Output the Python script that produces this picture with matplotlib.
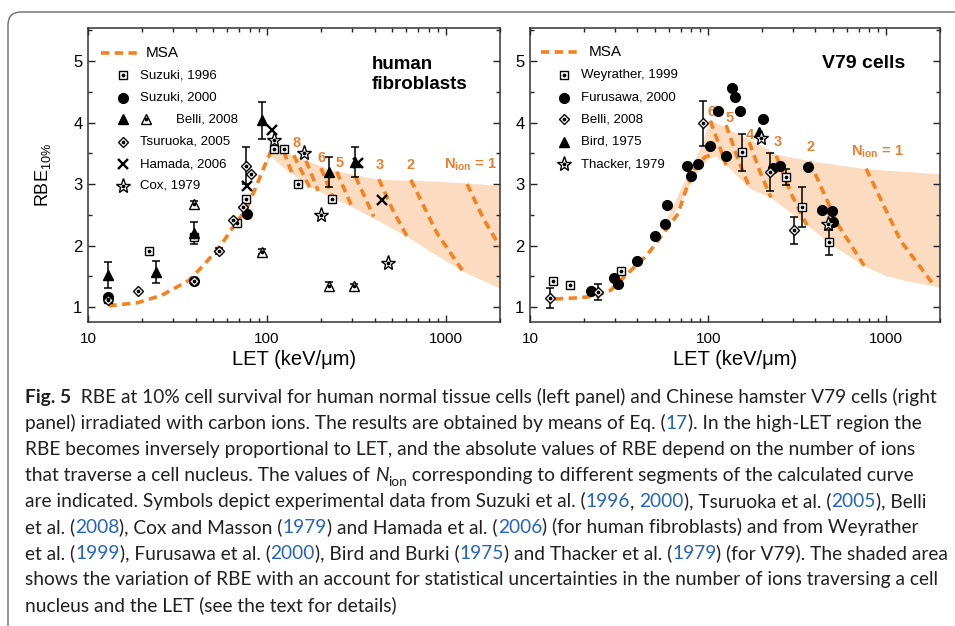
import numpy as np
import matplotlib
matplotlib.use('Agg')
import matplotlib.pyplot as plt
from matplotlib.patches import FancyBboxPatch
from matplotlib.ticker import LogLocator, MultipleLocator, FixedLocator, NullFormatter

plt.rcParams['font.family'] = ['Liberation Sans', 'DejaVu Sans']
plt.rcParams['mathtext.fontset'] = 'custom'
plt.rcParams['mathtext.rm'] = 'Liberation Sans'
plt.rcParams['mathtext.it'] = 'Liberation Sans:italic'
plt.rcParams['mathtext.bf'] = 'Liberation Sans:bold'
plt.rcParams['mathtext.default'] = 'regular'

# ---------------- data ----------------
# left panel: human fibroblasts
msa_l_let = [13, 15.4, 19, 25.8, 36.5, 45.2, 56, 66.6, 76, 86, 98, 106]
msa_l_rbe = [1.02, 1.04, 1.07, 1.19, 1.43, 1.71, 2.03, 2.36, 2.57, 2.93, 3.33, 3.56]
band_l_up_let = [95, 105, 118, 146, 225, 420, 860, 1310, 2000]
band_l_up_rbe = [3.22, 3.56, 3.55, 3.44, 3.23, 3.07, 3.04, 3.01, 2.97]
band_l_lo_let = [95, 105, 120, 174, 230, 297, 394, 607, 850, 1256, 2000]
band_l_lo_rbe = [3.22, 3.45, 3.30, 2.95, 2.78, 2.63, 2.44, 2.14, 1.87, 1.57, 1.30]
seg_l = {
    9: ([124, 138], [3.53, 3.17]),
    8: ([141, 174], [3.47, 2.93]),
    7: ([165, 193], [3.38, 2.89]),
    6: ([200, 236], [3.26, 2.75]),
    5: ([245, 297], [3.20, 2.64]),
    4: ([312, 394], [3.12, 2.47]),
    3: ([421, 505, 607], [3.08, 2.57, 2.14]),
    2: ([635, 890, 1256], [3.07, 2.20, 1.56]),
    1: ([1310, 1620, 2000], [3.00, 2.43, 1.98]),
}
lab_l = ['8', '6', '5', '3', '2', r'N$_{\mathbf{ion}}$ = 1']
lab_l_let = [146, 201, 253, 424, 635, 1365]
lab_l_rbe = [3.67, 3.42, 3.34, 3.31, 3.31, 3.31]

suz96_let = [13, 22, 39, 68, 76, 110, 125, 149, 232]
suz96_rbe = [1.13, 1.91, 2.14, 2.36, 2.75, 3.57, 3.57, 3.00, 2.75]
suz00_let = [13, 39, 77.5]
suz00_rbe = [1.16, 1.43, 2.52]
bellf_let = [13, 24, 39, 94, 222, 309]
bellf_rbe = [1.52, 1.57, 2.20, 4.04, 3.20, 3.36]
bellf_err = [0.21, 0.18, 0.18, 0.30, 0.24, 0.24]
bello_let = [39, 94, 222, 307]
bello_rbe = [2.67, 1.90, 1.34, 1.34]
bello_err = [0.06, 0.04, 0.07, 0.04]
tsu_let = [13, 18.9, 39, 54, 64.4, 73.3, 76, 81]
tsu_rbe = [1.11, 1.26, 1.43, 1.91, 2.41, 2.63, 3.30, 3.16]
tsu_err = [0, 0, 0, 0.05, 0, 0, 0.30, 0]
ham_let = [77, 107, 323, 440]
ham_rbe = [2.97, 3.88, 3.35, 2.74]
cox_let = [110, 161, 199, 476]
cox_rbe = [3.72, 3.51, 2.50, 1.71]

# right panel: V79 cells
msa_r_let = [13.8, 19.1, 23.5, 28.3, 34.9, 45.3, 56.1, 67.8, 75.9, 86.4, 96.2, 102]
msa_r_rbe = [1.13, 1.15, 1.18, 1.27, 1.53, 1.84, 2.20, 2.52, 2.95, 3.31, 3.44, 3.47]
band_r_up_let = [58, 70, 80, 90, 103, 139, 172, 243, 374, 780, 2000]
band_r_up_rbe = [2.40, 2.90, 3.25, 3.55, 4.04, 3.85, 3.72, 3.48, 3.37, 3.24, 3.16]
band_r_lo_let = [58, 70, 80, 90, 100, 110, 126, 172, 225, 358, 500, 755, 1000, 1300, 1830, 2000]
band_r_lo_rbe = [2.30, 2.70, 3.00, 3.25, 3.40, 3.45, 3.31, 2.92, 2.78, 2.33, 2.00, 1.66, 1.50, 1.42, 1.34, 1.31]
seg_r = {
    6: ([103, 126], [4.03, 3.31]),
    5: ([126, 148, 172], [3.96, 3.38, 2.92]),
    4: ([170, 196, 225], [3.68, 3.19, 2.78]),
    3: ([241, 295, 358], [3.46, 2.82, 2.33]),
    2: ([371, 530, 755], [3.37, 2.36, 1.66]),
    1: ([770, 1200, 1830], [3.25, 2.08, 1.37]),
}
lab_r = ['6', '5', '4', '3', '2', r'N$_{\mathbf{ion}}$ = 1']
lab_r_let = [105, 132, 172, 245, 374, 890]
lab_r_rbe = [4.18, 4.07, 3.80, 3.69, 3.60, 3.52]

wey_let = [13.5, 16.8, 32.4, 155, 274, 336, 476]
wey_rbe = [1.42, 1.36, 1.58, 3.52, 3.12, 2.63, 2.05]
wey_err = [0, 0, 0, 0.30, 0.13, 0.33, 0.21]
furu_let = [22, 29.8, 31, 40.1, 50, 57.3, 58.6, 76.5, 80.2, 87.4, 102.6, 114, 126,
            136.5, 142, 151, 202, 231, 254, 363, 435, 496, 502]
furu_rbe = [1.26, 1.47, 1.37, 1.74, 2.16, 2.35, 2.66, 3.30, 3.13, 3.32, 3.62, 4.19, 3.45,
            4.56, 4.42, 4.19, 4.06, 3.26, 3.30, 3.27, 2.57, 2.56, 2.38]
bellr_let = [12.9, 24, 93.3, 223, 305]
bellr_rbe = [1.15, 1.24, 3.99, 3.19, 2.25]
bellr_err = [0.16, 0.13, 0.37, 0.31, 0.22]
bird_let = [192]
bird_rbe = [3.85]
thack_let = [199, 470]
thack_rbe = [3.75, 2.35]

caption = [
    [('Fig. 5', 'b'), ('  RBE at 10% cell survival for human normal tissue cells (left panel) and Chinese hamster V79 cells (right', 'n')],
    [('panel) irradiated with carbon ions. The results are obtained by means of Eq. (', 'n'), ('17', 'l'), ('). In the high-LET region the', 'n')],
    [('RBE becomes inversely proportional to LET, and the absolute values of RBE depend on the number of ions', 'n')],
    [('that traverse a cell nucleus. The values of ', 'n'), ('N', 'i'), ('ion', 's'), (' corresponding to different segments of the calculated curve', 'n')],
    [('are indicated. Symbols depict experimental data from Suzuki et al. (', 'n'), ('1996', 'l'), (', ', 'n'), ('2000', 'l'),
     ('), Tsuruoka et al. (', 'n'), ('2005', 'l'), ('), Belli', 'n')],
    [('et al. (', 'n'), ('2008', 'l'), ('), Cox and Masson (', 'n'), ('1979', 'l'), (') and Hamada et al. (', 'n'), ('2006', 'l'),
     (') (for human fibroblasts) and from Weyrather', 'n')],
    [('et al. (', 'n'), ('1999', 'l'), ('), Furusawa et al. (', 'n'), ('2000', 'l'), ('), Bird and Burki (', 'n'), ('1975', 'l'),
     (') and Thacker et al. (', 'n'), ('1979', 'l'), (') (for V79). The shaded area', 'n')],
    [('shows the variation of RBE with an account for statistical uncertainties in the number of ions traversing a cell', 'n')],
    [('nucleus and the LET (see the text for details)', 'n')],
]

ORANGE = '#f5821f'
LABEL_OR = '#ec7f2f'
SHADE = '#fcdcc0'
W, H = 955, 626

fig = plt.figure(figsize=(W / 100, H / 100), dpi=100)

# outer rounded frame (only top and left edges are visible)
frame = FancyBboxPatch((0.08, -1.0), 12.0, (H - 12) / 100 + 1.0,
                       boxstyle='round,pad=0,rounding_size=0.13',
                       transform=fig.dpi_scale_trans, fc='none', ec='#6b6b6b', lw=1.0)
fig.add_artist(frame)

ax1 = fig.add_axes([88 / W, 1 - 322 / H, 412 / W, 294 / H])
ax2 = fig.add_axes([530 / W, 1 - 322 / H, 410 / W, 294 / H])


def style_axes(ax):
    ax.set_xscale('log')
    ax.set_xlim(10, 2000)
    ax.set_ylim(0.755, 5.54)
    ax.xaxis.set_major_locator(FixedLocator([10, 100, 1000]))
    ax.xaxis.set_minor_locator(LogLocator(base=10, subs=np.arange(2, 10)))
    ax.xaxis.set_minor_formatter(NullFormatter())
    ax.set_xticklabels(['10', '100', '1000'])
    ax.yaxis.set_major_locator(MultipleLocator(1))
    ax.yaxis.set_minor_locator(MultipleLocator(0.5))
    ax.tick_params(which='both', direction='in', top=True, right=True, width=1.0, color='#222222')
    ax.tick_params(which='major', length=5)
    ax.tick_params(which='minor', length=3)
    ax.tick_params(axis='x', labelsize=11, pad=7)
    ax.tick_params(axis='y', labelsize=12, pad=4)
    for s in ax.spines.values():
        s.set_linewidth(1.1)
        s.set_color('#333333')
    ax.set_xlabel('LET (keV/\u03bcm)', fontsize=14.5)
    ax.xaxis.set_label_coords(0.5, -0.095)


def open_pts(ax, x, y, marker, ms, err=None, **kw):
    x = np.asarray(x, float)
    y = np.asarray(y, float)
    if err is not None:
        err = np.asarray(err, float)
        m = err > 0
        ax.errorbar(x[m], y[m], yerr=err[m], fmt='none', ecolor='k', elinewidth=1.1,
                    capsize=3, capthick=1.1, zorder=4, **kw)
    ax.plot(x, y, ls='none', marker=marker, ms=ms, mfc='white', mec='k', mew=1.0, zorder=5, **kw)
    ax.plot(x, y, ls='none', marker='o', ms=1.7, color='k', zorder=6, **kw)


def solid_pts(ax, x, y, marker, ms, err=None, **kw):
    x = np.asarray(x, float)
    y = np.asarray(y, float)
    if err is not None:
        err = np.asarray(err, float)
        m = err > 0
        ax.errorbar(x[m], y[m], yerr=err[m], fmt='none', ecolor='k', elinewidth=1.1,
                    capsize=3, capthick=1.1, zorder=4, **kw)
    ax.plot(x, y, ls='none', marker=marker, ms=ms, color='k', zorder=5, **kw)


def cross_pts(ax, x, y, **kw):
    ax.plot(x, y, ls='none', marker='x', ms=7.5, mec='k', mew=1.7, zorder=5, **kw)


def msa_line(ax, x, y, **kw):
    ax.plot(x, y, color=ORANGE, lw=2.6, dashes=(2.3, 1.5), dash_capstyle='butt', zorder=2, **kw)


def draw_model(ax, lx, ly, up_x, up_y, lo_x, lo_y, segs, labs, lab_x, lab_y):
    ax.fill(np.r_[up_x, lo_x[::-1]], np.r_[up_y, lo_y[::-1]], color=SHADE, lw=0, zorder=1)
    msa_line(ax, lx, ly)
    for n, (sx, sy) in segs.items():
        msa_line(ax, sx, sy)
    for t, x, y in zip(labs, lab_x, lab_y):
        ax.text(x, y, t, color=LABEL_OR, fontsize=10.5, fontweight='bold',
                ha='center', va='center', zorder=3)


for ax in (ax1, ax2):
    style_axes(ax)

# ---------------- left panel ----------------
draw_model(ax1, msa_l_let, msa_l_rbe, band_l_up_let, band_l_up_rbe, band_l_lo_let, band_l_lo_rbe,
           seg_l, lab_l, lab_l_let, lab_l_rbe)
open_pts(ax1, suz96_let, suz96_rbe, 's', 5.5)
solid_pts(ax1, suz00_let, suz00_rbe, 'o', 7)
open_pts(ax1, tsu_let, tsu_rbe, 'D', 5.2, tsu_err)
solid_pts(ax1, bellf_let, bellf_rbe, '^', 7, bellf_err)
open_pts(ax1, bello_let, bello_rbe, '^', 7, bello_err)
cross_pts(ax1, ham_let, ham_rbe)
open_pts(ax1, cox_let, cox_rbe, '*', 11)
ax1.set_ylabel(r'RBE$_{10\%}$', fontsize=13)
ax1.yaxis.set_label_coords(-0.085, 0.5)
ax1.text(0.689, 0.905, 'human\nfibroblasts', transform=ax1.transAxes, fontsize=13.5,
         fontweight='bold', ha='left', va='top', linespacing=1.2)

# legend (left)
T = ax1.transAxes
kw = dict(transform=T, clip_on=False)
msa_line(ax1, [0.032, 0.124], [0.915, 0.915], **kw)
ax1.text(0.141, 0.915, 'MSA', transform=T, fontsize=11, va='center')
rows_y = [0.840, 0.763, 0.689, 0.613, 0.536, 0.463]
open_pts(ax1, [0.085], [rows_y[0]], 's', 5.5, **kw)
solid_pts(ax1, [0.085], [rows_y[1]], 'o', 7, **kw)
solid_pts(ax1, [0.085], [rows_y[2]], '^', 7, **kw)
open_pts(ax1, [0.140], [rows_y[2]], '^', 7, **kw)
open_pts(ax1, [0.085], [rows_y[3]], 'D', 5.2, **kw)
cross_pts(ax1, [0.085], [rows_y[4]], **kw)
open_pts(ax1, [0.085], [rows_y[5]], '*', 11, **kw)
for txt, y, x in zip(['Suzuki, 1996', 'Suzuki, 2000', 'Belli, 2008', 'Tsuruoka, 2005', 'Hamada, 2006', 'Cox, 1979'],
                     rows_y, [0.126, 0.126, 0.214, 0.126, 0.126, 0.126]):
    ax1.text(x, y, txt, transform=T, fontsize=9.5, va='center')

# ---------------- right panel ----------------
draw_model(ax2, msa_r_let, msa_r_rbe, band_r_up_let, band_r_up_rbe, band_r_lo_let, band_r_lo_rbe,
           seg_r, lab_r, lab_r_let, lab_r_rbe)
open_pts(ax2, wey_let, wey_rbe, 's', 5.5, wey_err)
solid_pts(ax2, furu_let, furu_rbe, 'o', 7)
open_pts(ax2, bellr_let, bellr_rbe, 'D', 5.2, bellr_err)
solid_pts(ax2, bird_let, bird_rbe, '^', 7)
open_pts(ax2, thack_let, thack_rbe, '*', 11)
ax2.text(0.712, 0.908, 'V79 cells', transform=ax2.transAxes, fontsize=14,
         fontweight='bold', ha='left', va='top')

T = ax2.transAxes
kw = dict(transform=T, clip_on=False)
msa_line(ax2, [0.028, 0.122], [0.917, 0.917], **kw)
ax2.text(0.144, 0.917, 'MSA', transform=T, fontsize=11, va='center')
open_pts(ax2, [0.084], [rows_y[0]], 's', 5.5, **kw)
solid_pts(ax2, [0.084], [rows_y[1]], 'o', 7, **kw)
open_pts(ax2, [0.084], [rows_y[2]], 'D', 5.2, **kw)
solid_pts(ax2, [0.084], [rows_y[3]], '^', 7, **kw)
open_pts(ax2, [0.084], [rows_y[4]], '*', 11, **kw)
for txt, y in zip(['Weyrather, 1999', 'Furusawa, 2000', 'Belli, 2008', 'Bird, 1975', 'Thacker, 1979'], rows_y):
    ax2.text(0.124, y, txt, transform=T, fontsize=9.5, va='center')

# ---------------- caption ----------------
renderer = fig.canvas.get_renderer()
CAP_FONT = 'Lato'


def props(style, size):
    p = dict(family=[CAP_FONT, 'DejaVu Sans'], size=size, color='#231f20')
    if style == 'b':
        p['weight'] = 'bold'
    elif style == 'l':
        p['color'] = '#2563c0'
    elif style == 'i':
        p['style'] = 'italic'
    elif style == 's':
        p['size'] = size * 0.72
    return p


def width_px(s, p):
    t = fig.text(0, 0, '|' + s + '|', **p)
    w1 = t.get_window_extent(renderer).width
    t.set_text('||')
    w2 = t.get_window_extent(renderer).width
    t.remove()
    return w1 - w2


# fit the caption so that its longest line ends where the reference's does
base = 12.0
widest = max(sum(width_px(s, props(st, base)) for s, st in line) for line in caption)
cap_size = base * 920.0 / widest

for i, line in enumerate(caption):
    x = 25.0
    y = 403 + 26 * i
    for s, st in line:
        p = props(st, cap_size)
        dy = cap_size * 0.28 * 100 / 72 if st == 's' else 0
        fig.text(x / W, 1 - (y + dy) / H, s, ha='left', va='baseline', **p)
        x += width_px(s, p)

fig.savefig('out.png', dpi=100)
